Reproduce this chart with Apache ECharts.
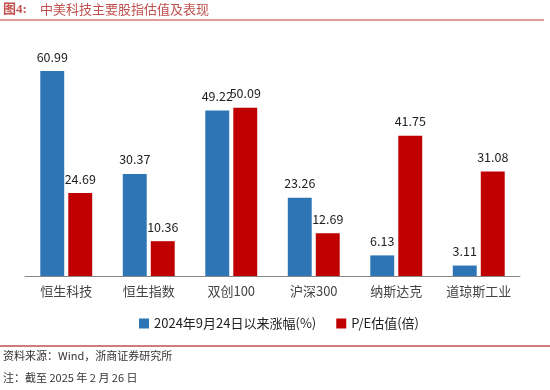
<!DOCTYPE html>
<html><head><meta charset="utf-8">
<script src="https://cdn.jsdelivr.net/npm/echarts@6/dist/echarts.min.js"></script>
<style>html,body{margin:0;padding:0;background:#fff}#c{width:550px;height:390px}</style>
</head><body><div id="c"></div>
<script>
const categories = ['恒生科技','恒生指数','双创100','沪深300','纳斯达克','道琼斯工业'];
const gainSince924 = [60.99, 30.37, 49.22, 23.26, 6.13, 3.11];
const peValuation = [24.69, 10.36, 50.09, 12.69, 41.75, 31.08];
const seriesNames = ['2024年9月24日以来涨幅(%)', 'P/E估值(倍)'];

const chart = echarts.init(document.getElementById('c'));
const font = '"Noto Sans CJK SC", "Noto Sans", sans-serif';
chart.setOption({
  animation: false,
  backgroundColor: '#fff',
  textStyle: {fontFamily: font},
  grid: {left: 25, right: 30, top: 40.8, bottom: 114, containLabel: false},
  legend: {
    left: 134, top: 312, itemWidth: 10, itemHeight: 10, itemGap: 20,
    icon: 'rect',
    textStyle: {fontSize: 13, color: '#222', fontFamily: font},
    data: seriesNames
  },
  xAxis: {
    type: 'category', data: categories,
    axisLine: {lineStyle: {color: '#888', width: 1}},
    axisTick: {show: false},
    axisLabel: {interval: 0, fontSize: 13, color: '#444', margin: 9}
  },
  yAxis: {type: 'value', min: 0, max: 70, show: false, splitLine: {show: false}},
  series: [
    {name: seriesNames[0], type: 'bar', data: gainSince924, barWidth: '29%', barGap: '17%',
     itemStyle: {color: '#2E75B6'},
     label: {show: true, position: 'top', distance: 8, fontSize: 12.5, color: '#222'}},
    {name: seriesNames[1], type: 'bar', data: peValuation, barWidth: '29%', barGap: '17%',
     itemStyle: {color: '#C00000'},
     label: {show: true, position: 'top', distance: 8, fontSize: 12.5, color: '#222'}}
  ],
  graphic: [
    {type: 'text', left: 3, top: 3, style: {text: '图4:', fontSize: 13, fill: '#c0504d', fontFamily: '"Liberation Serif", "Noto Sans CJK SC", serif', fontWeight: 'bold'}},
    {type: 'text', left: 40, top: 3, style: {text: '中美科技主要股指估值及表现', fontSize: 13, fill: '#c0504d', fontFamily: font}},
    {type: 'line', shape: {x1: 0, y1: 20, x2: 544, y2: 20}, style: {stroke: '#e09a9a', lineWidth: 2}},
    {type: 'line', shape: {x1: 0, y1: 346, x2: 550, y2: 346}, style: {stroke: '#c0504d', lineWidth: 1.5}},
    {type: 'text', left: 3, top: 350, style: {text: '资料来源：Wind，浙商证券研究所', fontSize: 11, fill: '#333', fontFamily: font}},
    {type: 'text', left: 3, top: 372, style: {text: '注：截至 2025 年 2 月 26 日', fontSize: 11, fill: '#333', fontFamily: font}}
  ]
});
</script></body></html>
